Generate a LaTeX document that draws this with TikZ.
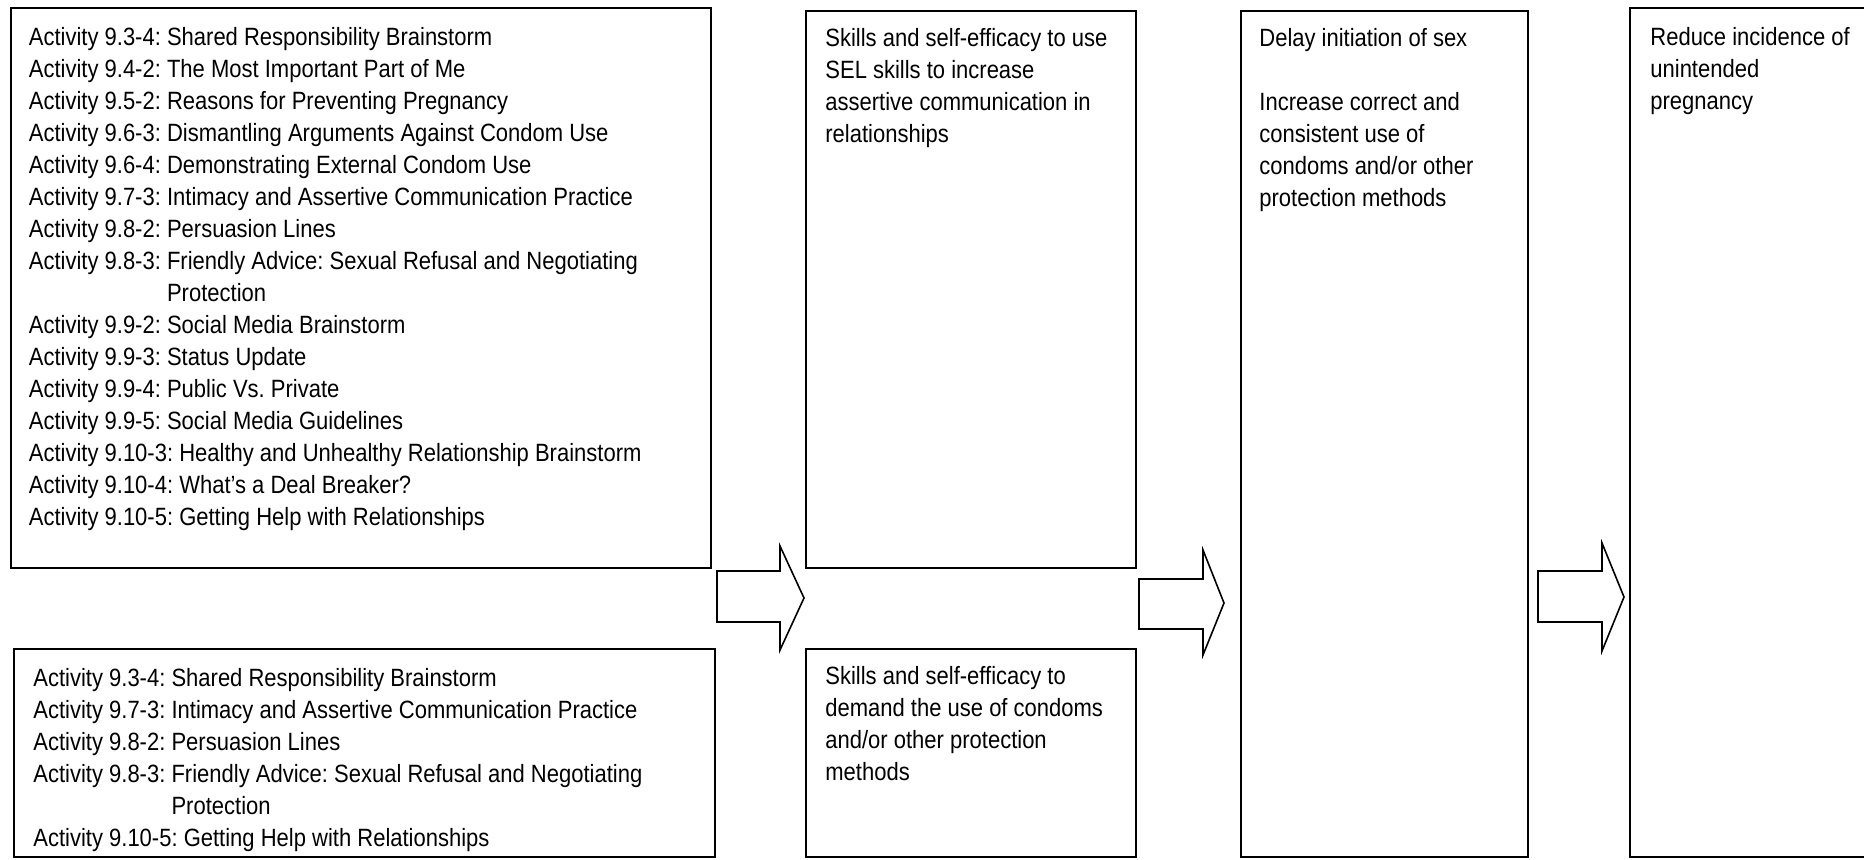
\documentclass[tikz,border=0pt]{standalone}
\usepackage{fontspec}
\setmainfont{Liberation Sans}[FakeStretch=0.88]
\begin{document}
\frenchspacing
\begin{tikzpicture}[x=0.5pt,y=-0.5pt,
  box/.style={draw, line width=1pt, anchor=north west, inner sep=0pt},
  txt/.style={anchor=north west, inner sep=0pt, align=left, font=\fontsize{12.5}{16}\selectfont},
  blk/.style={draw, line width=0.8pt, line join=miter, fill=white}]
\useasboundingbox (0,0) rectangle (1864,859);
% boxes
\node[box, minimum width=350.25pt, minimum height=280pt] (b1) at (9.5,7) {};
\node[box, minimum width=350.5pt, minimum height=104pt] (b2) at (13,648) {};
\node[box, minimum width=165pt, minimum height=278.75pt] (m1) at (805,9.5) {};
\node[box, minimum width=165pt, minimum height=104pt] (m2) at (805,648) {};
\node[box, minimum width=143.5pt, minimum height=423.25pt] (b3) at (1240,9.5) {};
\node[box, minimum width=130pt, minimum height=424.5pt] (b4) at (1629,7) {};
% texts
\node[txt] (t1) at (28.5,26.5) {Activity 9.3-4: Shared Responsibility Brainstorm\\
Activity 9.4-2: The Most Important Part of Me\\
Activity 9.5-2: Reasons for Preventing Pregnancy\\
Activity 9.6-3: Dismantling Arguments Against Condom Use\\
Activity 9.6-4: Demonstrating External Condom Use\\
Activity 9.7-3: Intimacy and Assertive Communication Practice\\
Activity 9.8-2: Persuasion Lines\\
Activity 9.8-3: Friendly Advice: Sexual Refusal and Negotiating\\
\phantom{Activity 9.8-3: }Protection\\
Activity 9.9-2: Social Media Brainstorm\\
Activity 9.9-3: Status Update\\
Activity 9.9-4: Public Vs. Private\\
Activity 9.9-5: Social Media Guidelines\\
Activity 9.10-3: Healthy and Unhealthy Relationship Brainstorm\\
Activity 9.10-4: What’s a Deal Breaker?\\
Activity 9.10-5: Getting Help with Relationships};
\node[txt] (t2) at (33,667.5) {Activity 9.3-4: Shared Responsibility Brainstorm\\
Activity 9.7-3: Intimacy and Assertive Communication Practice\\
Activity 9.8-2: Persuasion Lines\\
Activity 9.8-3: Friendly Advice: Sexual Refusal and Negotiating\\
\phantom{Activity 9.8-3: }Protection\\
Activity 9.10-5: Getting Help with Relationships};
\node[txt] (tm1) at (825,27.5) {Skills and self-efficacy to use\\
SEL skills to increase\\
assertive communication in\\
relationships};
\node[txt] (tm2) at (825,665.5) {Skills and self-efficacy to\\
demand the use of condoms\\
and/or other protection\\
methods};
\node[txt] (t3) at (1259,27.5) {Delay initiation of sex\\[16pt]
Increase correct and\\
consistent use of\\
condoms and/or other\\
protection methods};
\node[txt] (t4) at (1650,26.5) {Reduce incidence of\\
unintended\\
pregnancy};
% block arrows
\draw[blk] (717,571) -- (780,571) -- (780,546) -- (804,598) -- (780,650) -- (780,622) -- (717,622) -- cycle;
\draw[blk] (1139,579) -- (1203,579) -- (1203,550) -- (1224,603) -- (1203,655) -- (1203,629) -- (1139,629) -- cycle;
\draw[blk] (1538,571) -- (1602,571) -- (1602,543) -- (1624,597) -- (1602,651) -- (1602,622) -- (1538,622) -- cycle;
\end{tikzpicture}
\end{document}
